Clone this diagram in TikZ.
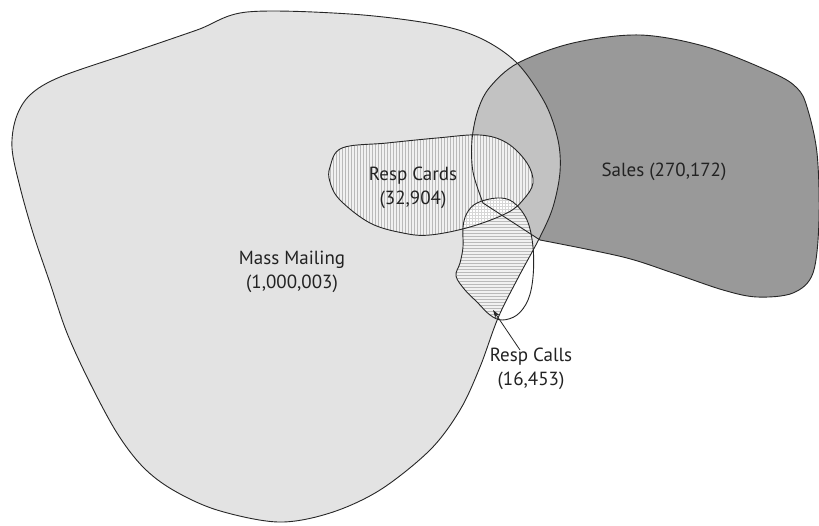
\documentclass[tikz,border=0pt]{standalone}
\usepackage{fontspec}
\setmainfont{PT Sans}
\usetikzlibrary{arrows.meta}

\definecolor{massgray}{HTML}{E3E3E3}
\definecolor{salesgray}{HTML}{999999}
\definecolor{bothgray}{HTML}{C2C2C2}
\definecolor{hatchgray}{HTML}{BABABA}
\definecolor{labelgray}{HTML}{222222}

\tikzset{
  x=1pt, y=-1pt,
  outline/.style={draw=black!85, line width=0.9pt},
  hatch/.style={draw=hatchgray, line width=0.55pt},
  label/.style={text=labelgray, font=\fontsize{19}{24}\selectfont, align=center, inner sep=0pt},
  pointer/.style={draw=black!85, line width=0.8pt, -{Stealth[length=8pt,width=5pt]}},
  % region outlines
  mass/.style={insert path={plot[smooth cycle, tension=0.55] coordinates {
      (247,12) (350,14) (433,24) (480,38) (517,63) (545,103) (558,140) (560,172)
      (553,207) (540,237) (518,278) (498,318) (480,367) (460,410) (430,450)
      (380,490) (330,513) (278,522) (217,510) (173,490) (143,467) (117,433)
      (90,383) (67,333) (50,283) (33,233) (20,187) (12,148) (16,118) (30,95)
      (60,77) (130,53) (197,30)}}},
  sales/.style={insert path={plot[smooth, tension=0.55] coordinates {
      (483,203) (473,172) (472,140) (478,110) (490,87) (518,63) (573,43)
      (640,35) (707,47) (773,73) (797,88) (807,107) (817,153) (819,220)
      (813,273) (793,293) (757,297) (723,290) (673,273) (623,257) (540,240)}
      -- cycle}},
  cards/.style={insert path={plot[smooth cycle, tension=0.6] coordinates {
      (330,167) (342,148) (387,143) (437,138) (480,135) (507,143) (527,163)
      (533,183) (523,200) (507,213) (470,227) (430,235) (403,233) (370,223)
      (340,200) (330,182)}}},
  calls/.style={insert path={plot[smooth cycle, tension=0.6] coordinates {
      (477,203) (497,198) (513,202) (527,220) (533,247) (533,277) (528,300)
      (517,315) (502,320) (490,315) (477,302) (465,290) (456,276) (460,263)
      (463,247) (463,227) (467,213)}}}
}

\begin{document}
\begin{tikzpicture}
\useasboundingbox (0,0) rectangle (819,525);
\fill[white] (0,0) rectangle (819,525);

% base areas
\fill[massgray] [mass];
\fill[salesgray] [sales];
\begin{scope}
  \clip [mass];
  \fill[bothgray] [sales];
\end{scope}

% response cards: vertical hatching
\begin{scope}
  \clip [cards];
  \fill[massgray!50!white] (320,125) rectangle (545,245);
  \foreach \x in {321,324,...,543} \draw[hatch] (\x,125) -- (\x,245);
\end{scope}

% response calls: white outside the mailing, horizontal hatching inside
\begin{scope}
  \clip [calls];
  \fill[white] (450,190) rectangle (545,330);
  \clip [mass];
  \fill[massgray!50!white] (450,190) rectangle (545,330);
  \foreach \y in {191,194,...,329} \draw[hatch] (450,\y) -- (545,\y);
\end{scope}

% cards and calls together: light cross-hatching
\begin{scope}
  \clip [cards];
  \clip [calls];
  \fill[white] (450,190) rectangle (545,245);
  \foreach \x in {451,454,...,543} \draw[hatch, draw=hatchgray!60] (\x,190) -- (\x,245);
  \foreach \y in {191,194,...,244} \draw[hatch, draw=hatchgray!60] (450,\y) -- (545,\y);
\end{scope}

% outlines
\path[outline] [mass];
\path[outline] [sales];
\path[outline] [cards];
\path[outline] [calls];

% labels
\node[label] (massLabel) at (292,272) {Mass Mailing\\(1,000,003)};
\node[label] (cardsLabel) at (413,188) {Resp Cards\\(32,904)};
\node[label] (salesLabel) at (664,172) {Sales (270,172)};
\node[label] (callsLabel) at (531,369) {Resp Calls\\(16,453)};

% pointer to the response calls area
\coordinate (callsTip) at (493,310);
\coordinate (callsTail) at (520,350);
\draw[pointer] (callsTail) -- (callsTip);
\end{tikzpicture}
\end{document}
